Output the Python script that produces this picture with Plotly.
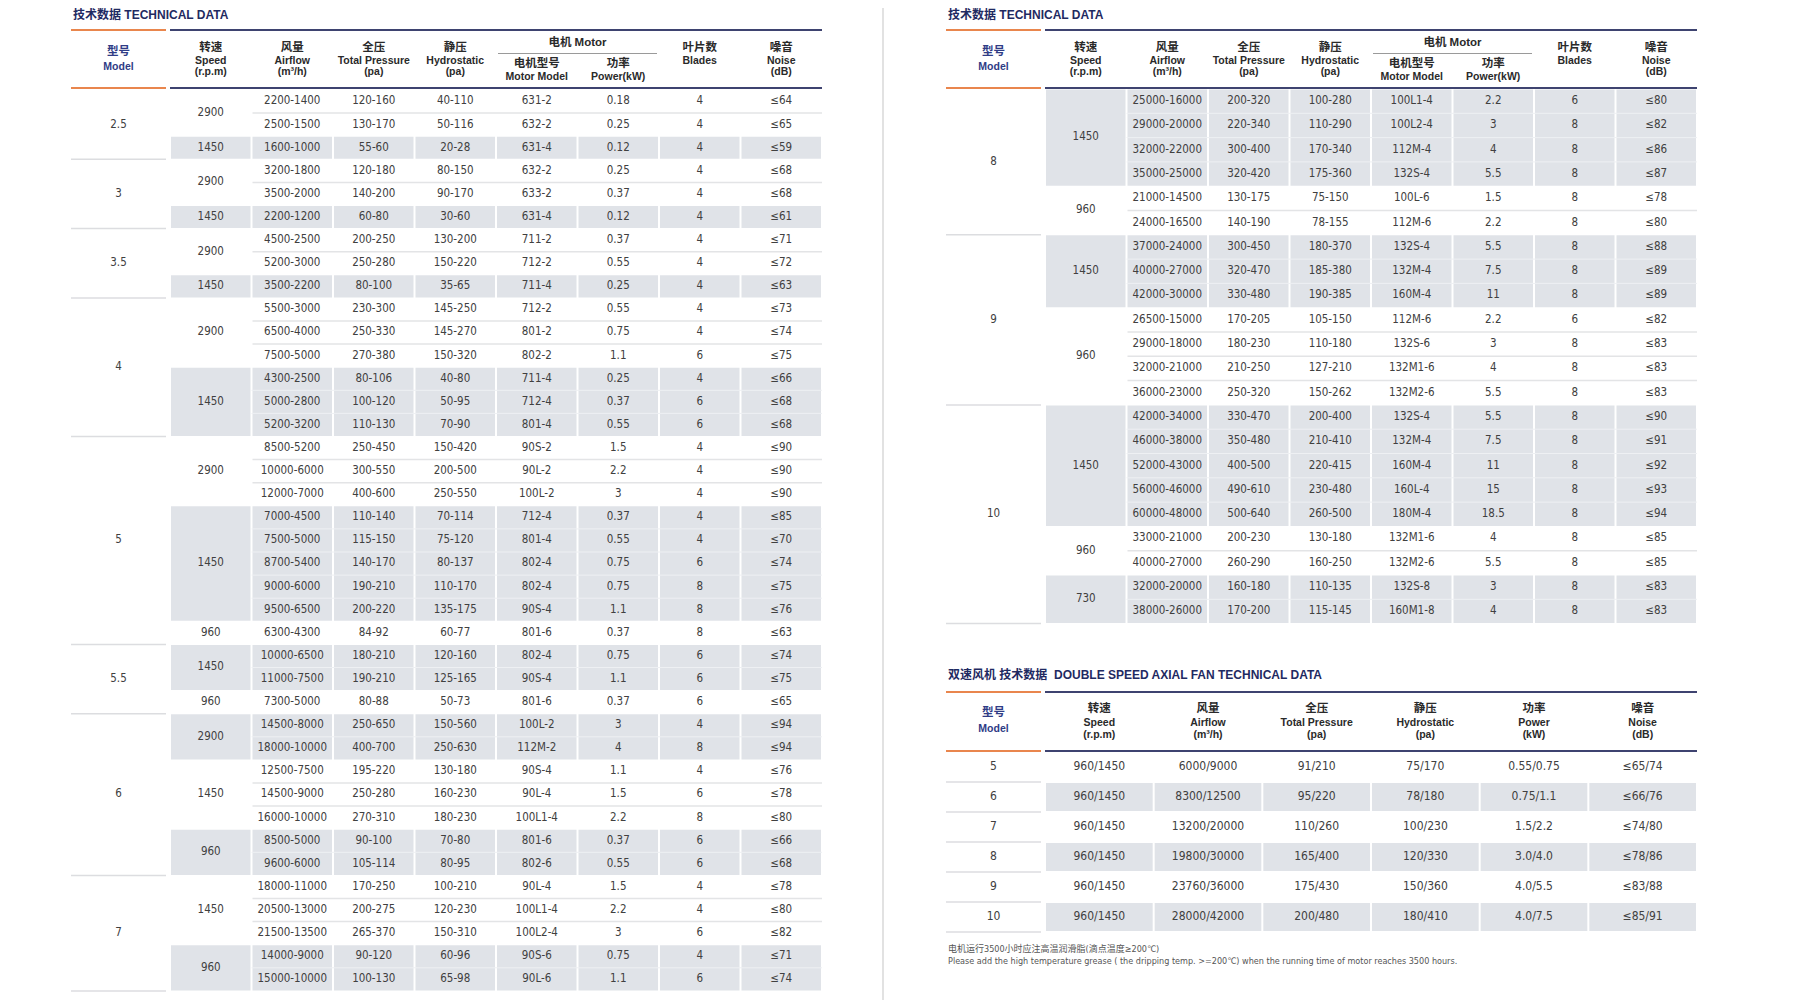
import plotly.graph_objects as go

# ---------------- technical data, left page ----------------
L_MODEL = ["2.5", "2.5", "2.5", "3", "3", "3", "3.5", "3.5", "3.5",
           "4", "4", "4", "4", "4", "4",
           "5", "5", "5", "5", "5", "5", "5", "5", "5",
           "5.5", "5.5", "5.5",
           "6", "6", "6", "6", "6", "6", "6",
           "7", "7", "7", "7", "7"]
L_SPEED = ["2900", "2900", "1450", "2900", "2900", "1450", "2900", "2900", "1450",
           "2900", "2900", "2900", "1450", "1450", "1450",
           "2900", "2900", "2900", "1450", "1450", "1450", "1450", "1450", "960",
           "1450", "1450", "960",
           "2900", "2900", "1450", "1450", "1450", "960", "960",
           "1450", "1450", "1450", "960", "960"]
L_AIRFLOW = ["2200-1400", "2500-1500", "1600-1000", "3200-1800", "3500-2000", "2200-1200",
             "4500-2500", "5200-3000", "3500-2200", "5500-3000", "6500-4000", "7500-5000",
             "4300-2500", "5000-2800", "5200-3200", "8500-5200", "10000-6000", "12000-7000",
             "7000-4500", "7500-5000", "8700-5400", "9000-6000", "9500-6500", "6300-4300",
             "10000-6500", "11000-7500", "7300-5000", "14500-8000", "18000-10000",
             "12500-7500", "14500-9000", "16000-10000", "8500-5000", "9600-6000",
             "18000-11000", "20500-13000", "21500-13500", "14000-9000", "15000-10000"]
L_TOTAL = ["120-160", "130-170", "55-60", "120-180", "140-200", "60-80",
           "200-250", "250-280", "80-100", "230-300", "250-330", "270-380",
           "80-106", "100-120", "110-130", "250-450", "300-550", "400-600",
           "110-140", "115-150", "140-170", "190-210", "200-220", "84-92",
           "180-210", "190-210", "80-88", "250-650", "400-700",
           "195-220", "250-280", "270-310", "90-100", "105-114",
           "170-250", "200-275", "265-370", "90-120", "100-130"]
L_STATIC = ["40-110", "50-116", "20-28", "80-150", "90-170", "30-60",
            "130-200", "150-220", "35-65", "145-250", "145-270", "150-320",
            "40-80", "50-95", "70-90", "150-420", "200-500", "250-550",
            "70-114", "75-120", "80-137", "110-170", "135-175", "60-77",
            "120-160", "125-165", "50-73", "150-560", "250-630",
            "130-180", "160-230", "180-230", "70-80", "80-95",
            "100-210", "120-230", "150-310", "60-96", "65-98"]
L_MOTOR = ["631-2", "632-2", "631-4", "632-2", "633-2", "631-4",
           "711-2", "712-2", "711-4", "712-2", "801-2", "802-2",
           "711-4", "712-4", "801-4", "90S-2", "90L-2", "100L-2",
           "712-4", "801-4", "802-4", "802-4", "90S-4", "801-6",
           "802-4", "90S-4", "801-6", "100L-2", "112M-2",
           "90S-4", "90L-4", "100L1-4", "801-6", "802-6",
           "90L-4", "100L1-4", "100L2-4", "90S-6", "90L-6"]
L_POWER = ["0.18", "0.25", "0.12", "0.25", "0.37", "0.12",
           "0.37", "0.55", "0.25", "0.55", "0.75", "1.1",
           "0.25", "0.37", "0.55", "1.5", "2.2", "3",
           "0.37", "0.55", "0.75", "0.75", "1.1", "0.37",
           "0.75", "1.1", "0.37", "3", "4",
           "1.1", "1.5", "2.2", "0.37", "0.55",
           "1.5", "2.2", "3", "0.75", "1.1"]
L_BLADES = ["4", "4", "4", "4", "4", "4",
            "4", "4", "4", "4", "4", "6",
            "4", "6", "6", "4", "4", "4",
            "4", "4", "6", "8", "8", "8",
            "6", "6", "6", "4", "8",
            "4", "6", "8", "6", "6",
            "4", "4", "6", "4", "6"]
L_NOISE = ["≤64", "≤65", "≤59", "≤68", "≤68", "≤61",
           "≤71", "≤72", "≤63", "≤73", "≤74", "≤75",
           "≤66", "≤68", "≤68", "≤90", "≤90", "≤90",
           "≤85", "≤70", "≤74", "≤75", "≤76", "≤63",
           "≤74", "≤75", "≤65", "≤94", "≤94",
           "≤76", "≤78", "≤80", "≤66", "≤68",
           "≤78", "≤80", "≤82", "≤71", "≤74"]

# ---------------- technical data, right page ----------------
R_MODEL = ["8", "8", "8", "8", "8", "8",
           "9", "9", "9", "9", "9", "9", "9",
           "10", "10", "10", "10", "10", "10", "10", "10", "10"]
R_SPEED = ["1450", "1450", "1450", "1450", "960", "960",
           "1450", "1450", "1450", "960", "960", "960", "960",
           "1450", "1450", "1450", "1450", "1450", "960", "960", "730", "730"]
R_AIRFLOW = ["25000-16000", "29000-20000", "32000-22000", "35000-25000", "21000-14500", "24000-16500",
             "37000-24000", "40000-27000", "42000-30000", "26500-15000", "29000-18000",
             "32000-21000", "36000-23000", "42000-34000", "46000-38000", "52000-43000",
             "56000-46000", "60000-48000", "33000-21000", "40000-27000", "32000-20000", "38000-26000"]
R_TOTAL = ["200-320", "220-340", "300-400", "320-420", "130-175", "140-190",
           "300-450", "320-470", "330-480", "170-205", "180-230", "210-250", "250-320",
           "330-470", "350-480", "400-500", "490-610", "500-640", "200-230", "260-290",
           "160-180", "170-200"]
R_STATIC = ["100-280", "110-290", "170-340", "175-360", "75-150", "78-155",
            "180-370", "185-380", "190-385", "105-150", "110-180", "127-210", "150-262",
            "200-400", "210-410", "220-415", "230-480", "260-500", "130-180", "160-250",
            "110-135", "115-145"]
R_MOTOR = ["100L1-4", "100L2-4", "112M-4", "132S-4", "100L-6", "112M-6",
           "132S-4", "132M-4", "160M-4", "112M-6", "132S-6", "132M1-6", "132M2-6",
           "132S-4", "132M-4", "160M-4", "160L-4", "180M-4", "132M1-6", "132M2-6",
           "132S-8", "160M1-8"]
R_POWER = ["2.2", "3", "4", "5.5", "1.5", "2.2",
           "5.5", "7.5", "11", "2.2", "3", "4", "5.5",
           "5.5", "7.5", "11", "15", "18.5", "4", "5.5", "3", "4"]
R_BLADES = ["6", "8", "8", "8", "8", "8",
            "8", "8", "8", "6", "8", "8", "8",
            "8", "8", "8", "8", "8", "8", "8", "8", "8"]
R_NOISE = ["≤80", "≤82", "≤86", "≤87", "≤78", "≤80",
           "≤88", "≤89", "≤89", "≤82", "≤83", "≤83", "≤83",
           "≤90", "≤91", "≤92", "≤93", "≤94", "≤85", "≤85", "≤83", "≤83"]

# ---------------- double speed axial fan ----------------
D_MODEL = ["5", "6", "7", "8", "9", "10"]
D_SPEED = ["960/1450", "960/1450", "960/1450", "960/1450", "960/1450", "960/1450"]
D_AIRFLOW = ["6000/9000", "8300/12500", "13200/20000", "19800/30000", "23760/36000", "28000/42000"]
D_TOTAL = ["91/210", "95/220", "110/260", "165/400", "175/430", "200/480"]
D_STATIC = ["75/170", "78/180", "100/230", "120/330", "150/360", "180/410"]
D_POWER = ["0.55/0.75", "0.75/1.1", "1.5/2.2", "3.0/4.0", "4.0/5.5", "4.0/7.5"]
D_NOISE = ["≤65/74", "≤66/76", "≤74/80", "≤78/86", "≤83/88", "≤85/91"]

MAIN_HEAD = [["转速", "Speed", "(r.p.m)"], ["风量", "Airflow", "(m³/h)"],
             ["全压", "Total Pressure", "(pa)"], ["静压", "Hydrostatic", "(pa)"],
             ["电机型号", "Motor Model"], ["功率", "Power(kW)"],
             ["叶片数", "Blades"], ["噪音", "Noise", "(dB)"]]
DOUBLE_HEAD = [["转速", "Speed", "(r.p.m)"], ["风量", "Airflow", "(m³/h)"],
               ["全压", "Total Pressure", "(pa)"], ["静压", "Hydrostatic", "(pa)"],
               ["功率", "Power", "(kW)"], ["噪音", "Noise", "(dB)"]]

# ---------------- style ----------------
NUM_FONT = "Liberation Sans Narrow, DejaVu Sans Condensed, Arial Narrow, sans-serif"
HEAD_FONT = "Liberation Sans, Arial, Noto Sans CJK SC, sans-serif"
CJK_FONT = "Liberation Sans, Noto Sans CJK SC, sans-serif"
ORANGE = "#e9864d"
NAVY = "#3e4370"
TITLE_NAVY = "#1f2a62"
MODEL_BLUE = "#2f3c86"
GRAY_CELL = "#e0e3e8"
ROW_LINE = "#e3e4e6"
MODEL_LINE = "#dcdde0"
CELL_TEXT = "#404040"
HEAD_TEXT = "#2a2a2a"

MODEL_W, GAP, COL_W = 95, 4, 81.5
PAGE_MARGIN = 8  # browser body margin around the plot div

STYLES = {
    "cell": dict(family=NUM_FONT, size=11.5, color=CELL_TEXT),
    "cell_big": dict(family=NUM_FONT, size=12, color=CELL_TEXT),
    "head_cn": dict(family=CJK_FONT, size=11.5, color=HEAD_TEXT, weight="bold"),
    "head_en": dict(family=HEAD_FONT, size=10.5, color=HEAD_TEXT, weight="bold"),
    "model_cn": dict(family=CJK_FONT, size=11.5, color=MODEL_BLUE, weight="bold"),
    "model_en": dict(family=HEAD_FONT, size=10.5, color=MODEL_BLUE, weight="bold"),
}

shapes, annotations, texts = [], [], {}


def put(style, x, y, s):
    d = texts.setdefault(style, ([], [], []))
    d[0].append(x)
    d[1].append(y)
    d[2].append(s)


def hline(x0, x1, y, color, w):
    shapes.append(dict(type="line", xref="x", yref="y", x0=x0, x1=x1, y0=y, y1=y,
                       line=dict(color=color, width=w), layer="below"))


def box(x0, y0, x1, y1, color):
    shapes.append(dict(type="rect", xref="x", yref="y", x0=x0, x1=x1, y0=y0, y1=y1,
                       fillcolor=color, line=dict(width=0), layer="below"))


def title(x, y, s):
    annotations.append(dict(x=x, y=y, xref="x", yref="y", xanchor="left", yanchor="middle",
                            text="<b>" + s + "</b>", showarrow=False,
                            font=dict(family=CJK_FONT, size=12, color=TITLE_NAVY)))


def runs(keys):
    out, start = [], 0
    for i in range(1, len(keys) + 1):
        if i == len(keys) or keys[i] != keys[start]:
            out.append((start, i))
            start = i
    return out


def rules(x0, right, ys):
    for y in ys:
        hline(x0, x0 + MODEL_W, y, ORANGE, 2)
        hline(x0 + MODEL_W + GAP, right, y, NAVY, 2)


def main_table(x0, row_top, row_h, model, speed, columns, gray_first):
    edges = [x0 + MODEL_W + GAP + COL_W * i for i in range(9)]
    right = edges[-1]
    title(x0, 14, "技术数据 TECHNICAL DATA")
    rules(x0, right, (30, 88))
    mx = x0 + MODEL_W / 2
    put("model_cn", mx, 52.5, "型号")
    put("model_en", mx, 67, "Model")
    for c, head in enumerate(MAIN_HEAD):
        cx = (edges[c] + edges[c + 1]) / 2
        ys = (64, 77) if c in (4, 5) else (48, 61, 72.5)
        for k, (s, y) in enumerate(zip(head, ys)):
            put("head_cn" if k == 0 else "head_en", cx, y, s)
    put("head_cn", (edges[4] + edges[6]) / 2, 43, "电机 Motor")
    hline(edges[4] + 2, edges[6] - 2, 53.5, "#9a9a9a", 1)

    for gi, (a, b) in enumerate(runs(list(zip(model, speed)))):
        top, bot = row_top + a * row_h, row_top + b * row_h
        gray = (gi % 2 == 0) == gray_first
        if gray:
            for c in range(8):
                box(edges[c] + 1, top + 0.5, edges[c + 1] - 1, bot - 0.5, GRAY_CELL)
            for r in range(a + 1, b):
                hline(edges[1], right, row_top + r * row_h, "#eef0f3", 1)
        else:
            for r in range(a + 1, b):
                hline(edges[1] + 1, right, row_top + r * row_h, ROW_LINE, 1.5)
        put("cell", (edges[0] + edges[1]) / 2, (top + bot) / 2, speed[a])

    for a, b in runs(model):
        top, bot = row_top + a * row_h, row_top + b * row_h
        hline(x0, x0 + MODEL_W, bot, MODEL_LINE, 1.5)
        put("cell", mx, (top + bot) / 2, model[a])

    for c, col in enumerate(columns):
        cx = (edges[c + 1] + edges[c + 2]) / 2
        for r, s in enumerate(col):
            put("cell", cx, row_top + (r + 0.5) * row_h, s)


def double_table(x0, row_top, row_h, model, columns):
    w = (COL_W * 8) / 6
    edges = [x0 + MODEL_W + GAP + w * i for i in range(7)]
    right = edges[-1]
    title(x0, 674, "双速风机 技术数据  DOUBLE SPEED AXIAL FAN TECHNICAL DATA")
    rules(x0, right, (692, 751))
    mx = x0 + MODEL_W / 2
    put("model_cn", mx, 713, "型号")
    put("model_en", mx, 729, "Model")
    for c, head in enumerate(DOUBLE_HEAD):
        cx = (edges[c] + edges[c + 1]) / 2
        for k, (s, y) in enumerate(zip(head, (709, 723, 735))):
            put("head_cn" if k == 0 else "head_en", cx, y, s)
    for r, m in enumerate(model):
        top, bot = row_top + r * row_h, row_top + (r + 1) * row_h
        if r % 2 == 1:
            for c in range(6):
                box(edges[c] + 1, top + 1, edges[c + 1] - 1, bot - 1, GRAY_CELL)
        hline(x0, x0 + MODEL_W, bot, MODEL_LINE, 1.5)
        put("cell_big", mx, (top + bot) / 2, m)
        for c, col in enumerate(columns):
            put("cell_big", (edges[c] + edges[c + 1]) / 2, (top + bot) / 2, col[r])


main_table(71, 90, 23.1, L_MODEL, L_SPEED,
           [L_AIRFLOW, L_TOTAL, L_STATIC, L_MOTOR, L_POWER, L_BLADES, L_NOISE], False)
main_table(946, 89, 24.3, R_MODEL, R_SPEED,
           [R_AIRFLOW, R_TOTAL, R_STATIC, R_MOTOR, R_POWER, R_BLADES, R_NOISE], True)
double_table(946, 752, 30, D_MODEL,
             [D_SPEED, D_AIRFLOW, D_TOTAL, D_STATIC, D_POWER, D_NOISE])

# page fold
shapes.append(dict(type="line", xref="x", yref="y", x0=883, x1=883, y0=0, y1=1000,
                   line=dict(color="#e2e2e2", width=2), layer="below"))

# footnote
for y, s in [(948, "电机运行3500小时应注高温润滑脂(滴点温度≥200℃)"),
             (961, "Please add the high temperature grease ( the dripping temp. >=200℃) "
                   "when the running time of motor reaches 3500 hours.")]:
    annotations.append(dict(x=946, y=y, xref="x", yref="y", xanchor="left", yanchor="middle",
                            text=s, showarrow=False,
                            font=dict(family="Liberation Sans Narrow, DejaVu Sans Condensed, Noto Sans CJK SC, sans-serif",
                                      size=9, color="#555555")))

fig = go.Figure()
for style, (xs, ys, ts) in texts.items():
    fig.add_trace(go.Scatter(x=xs, y=ys, text=ts, mode="text", textposition="middle center",
                             textfont=STYLES[style], hoverinfo="skip", showlegend=False))

fig.update_layout(width=1800 - PAGE_MARGIN, height=1000 - PAGE_MARGIN,
                  margin=dict(l=0, r=0, t=0, b=0),
                  paper_bgcolor="white", plot_bgcolor="white", showlegend=False,
                  shapes=shapes, annotations=annotations,
                  xaxis=dict(range=[PAGE_MARGIN, 1800], visible=False, fixedrange=True),
                  yaxis=dict(range=[1000, PAGE_MARGIN], visible=False, fixedrange=True))

fig.write_html("out.html")
